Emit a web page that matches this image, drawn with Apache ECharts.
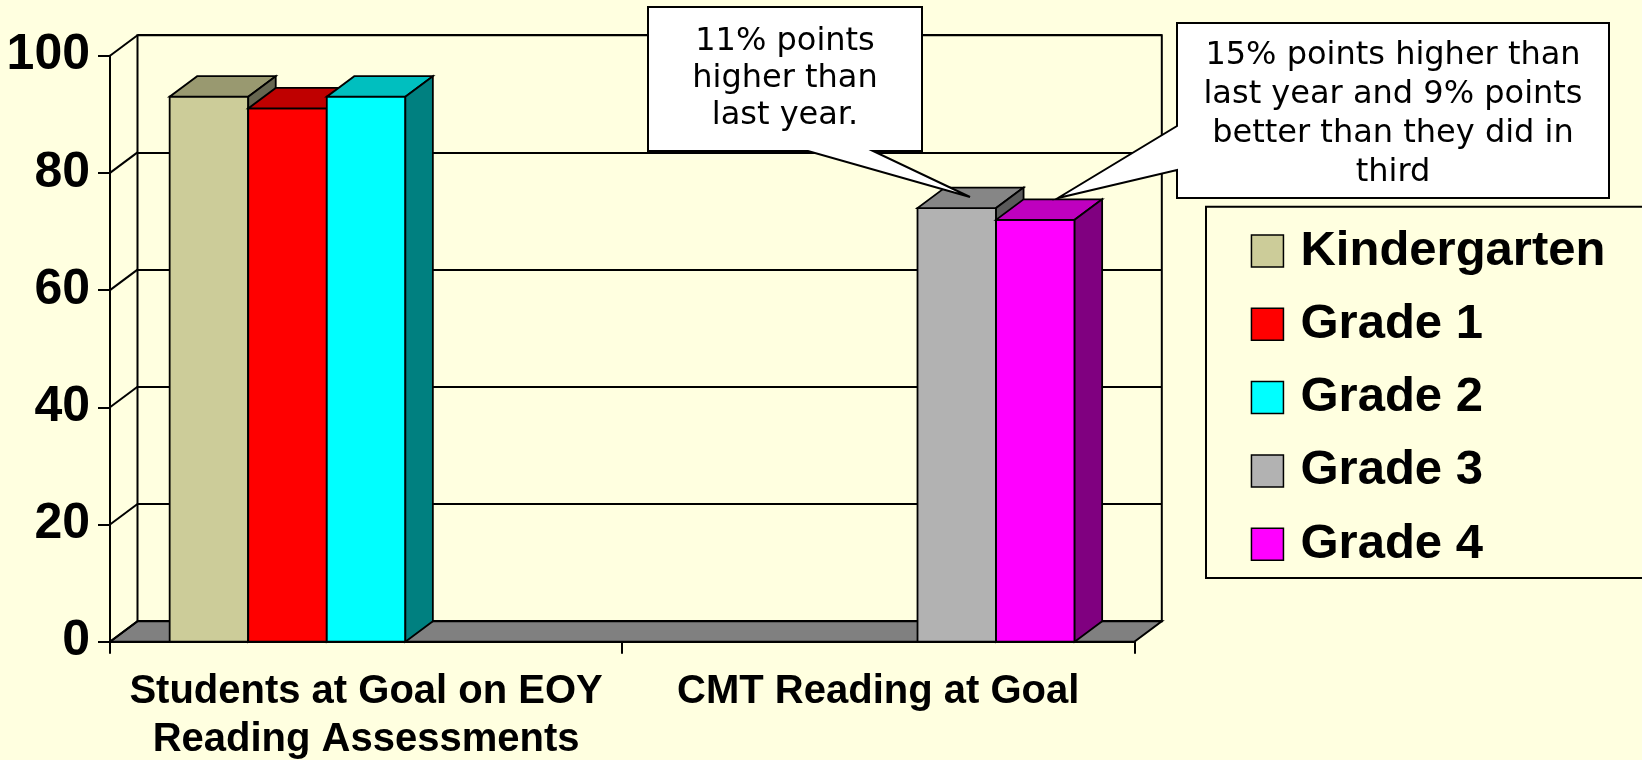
<!DOCTYPE html>
<html><head><meta charset="utf-8">
<script src="https://cdn.jsdelivr.net/npm/echarts@6/dist/echarts.min.js"></script>
<style>html,body{margin:0;padding:0;background:#FFFFE0;} #c{width:1642px;height:760px;}</style>
</head><body><div id="c"></div>
<script>
// ---- data ----
const categories = ['Students at Goal on EOY\nReading Assessments', 'CMT Reading at Goal'];
const seriesNames = ['Kindergarten', 'Grade 1', 'Grade 2', 'Grade 3', 'Grade 4'];
const kindergarten = [93, null];
const grade1 = [91, null];
const grade2 = [93, null];
const grade3 = [null, 74];
const grade4 = [null, 72];
const yTicks = [0, 20, 40, 60, 80, 100];
const callout1Lines = ['11% points', 'higher than', 'last year.'];
const callout2Lines = ['15% points higher than', 'last year and 9% points', 'better than they did in', 'third'];

// ---- styles ----
const seriesValues = [kindergarten, grade1, grade2, grade3, grade4];
const frontColors = ['#CCCC99', '#FF0000', '#00FFFF', '#B2B2B2', '#FF00FF'];
const topColors = ['#999970', '#BF0000', '#00BFBF', '#868686', '#BF00BF'];
const sideColors = ['#666650', '#800000', '#008080', '#5A5A5A', '#800080'];
const DX = 27.5, DY = 20.5, GAP = 0.233;
const FONT = "'Liberation Sans', Arial, sans-serif";
const BG = '#FFFFE0';

function renderFrame(params, api) {
  const cs = params.coordSys;
  const x0 = cs.x, x1 = cs.x + cs.width;
  const yb = api.coord([0, 0])[1];
  const children = [{
    type: 'polygon',
    shape: { points: [[x0, yb], [x1, yb], [x1 + DX, yb - DY], [x0 + DX, yb - DY]] },
    style: { fill: '#808080', stroke: '#000', lineWidth: 2 }
  }];
  yTicks.forEach(function (t) {
    const y = api.coord([0, t])[1];
    children.push({ type: 'line', shape: { x1: x0, y1: y, x2: x0 + DX, y2: y - DY }, style: { stroke: '#000', lineWidth: 2 } });
  });
  return { type: 'group', children: children };
}

function makeBarRender(s) {
  return function (params, api) {
    const cat = api.value(0), val = api.value(1);
    const top = api.coord([cat, val]);
    const base = api.coord([cat, 0]);
    const band = api.size([1, 0])[0];
    const groupW = band * (1 - GAP);
    const slot = groupW / seriesNames.length;
    const xl = top[0] - groupW / 2 + s * slot, xr = xl + slot;
    const yt = top[1], yb = base[1];
    const lw = 1.8;
    return { type: 'group', children: [
      { type: 'polygon', shape: { points: [[xl, yb], [xr, yb], [xr, yt], [xl, yt]] }, style: { fill: frontColors[s], stroke: '#000', lineWidth: lw } },
      { type: 'polygon', shape: { points: [[xl, yt], [xr, yt], [xr + DX, yt - DY], [xl + DX, yt - DY]] }, style: { fill: topColors[s], stroke: '#000', lineWidth: lw } },
      { type: 'polygon', shape: { points: [[xr, yb], [xr + DX, yb - DY], [xr + DX, yt - DY], [xr, yt]] }, style: { fill: sideColors[s], stroke: '#000', lineWidth: lw } }
    ] };
  };
}

const series = [{
  type: 'custom', name: '_frame', xAxisIndex: 0, yAxisIndex: 0,
  renderItem: renderFrame, data: [[0, 0]], silent: true, z: 2
}];
seriesNames.forEach(function (n, s) {
  series.push({
    type: 'custom', name: n, xAxisIndex: 0, yAxisIndex: 0, z: 3,
    itemStyle: { color: frontColors[s], borderColor: '#000', borderWidth: 1.5 },
    renderItem: makeBarRender(s),
    data: seriesValues[s].map(function (v, i) { return [i, v]; }).filter(function (d) { return d[1] != null; })
  });
});

const chart = echarts.init(document.getElementById('c'));
chart.setOption({
  backgroundColor: BG,
  animation: false,
  grid: [
    { left: 110, right: 507.7, top: 55.7, bottom: 118.3, containLabel: false, outerBoundsMode: 'none' },
    { left: 137.5, right: 480.2, top: 35.2, bottom: 138.8, containLabel: false, outerBoundsMode: 'none', show: true, borderColor: '#000', borderWidth: 2, backgroundColor: 'transparent' }
  ],
  xAxis: [
    { type: 'category', gridIndex: 0, data: categories,
      axisLine: { lineStyle: { color: '#000', width: 2 } },
      axisTick: { show: true, length: 12, lineStyle: { color: '#000', width: 2 } },
      axisLabel: { interval: 0, margin: 26, color: '#000', fontFamily: FONT, fontWeight: 'bold', fontSize: 40, lineHeight: 48, align: 'center' },
      splitLine: { show: false } },
    { type: 'category', gridIndex: 1, data: categories, show: false }
  ],
  yAxis: [
    { type: 'value', gridIndex: 0, min: 0, max: 100, interval: 20,
      axisLine: { show: true, lineStyle: { color: '#000', width: 2 } },
      axisTick: { show: true, length: 12, lineStyle: { color: '#000', width: 2 } },
      axisLabel: { margin: 20, color: '#000', fontFamily: FONT, fontWeight: 'bold', fontSize: 50, padding: [4, 0, 0, 0] },
      splitLine: { show: false } },
    { type: 'value', gridIndex: 1, min: 0, max: 100, interval: 20,
      axisLine: { show: false }, axisTick: { show: false }, axisLabel: { show: false },
      splitLine: { show: true, lineStyle: { color: '#000', width: 2 } } }
  ],
  legend: {
    orient: 'vertical', left: 1245.7, top: 221.5, itemWidth: 32, itemHeight: 32, itemGap: 24.3,
    icon: 'rect', selectedMode: false,
    textStyle: { fontFamily: FONT, fontWeight: 'bold', fontSize: 49, color: '#000', padding: [0, 0, 0, 12] },
    data: seriesNames.map(function (n, i) { return { name: n, itemStyle: { color: frontColors[i], borderColor: '#000', borderWidth: 1.5 } }; })
  },
  graphic: [
    { type: 'rect', z: 1, shape: { x: 1206, y: 206.7, width: 460, height: 371.3 }, style: { fill: BG, stroke: '#000', lineWidth: 2 } },
    { type: 'polygon', z: 10, shape: { points: [[648, 7], [922, 7], [922, 151], [873, 151], [970, 197], [808, 151], [648, 151]] }, style: { fill: '#FFFFFF', stroke: '#000', lineWidth: 2 } },
    { type: 'text', z: 11, x: 785, y: 79, style: { text: callout1Lines.join('\n'), fontFamily: "'DejaVu Sans', Verdana, sans-serif", fontSize: 32, lineHeight: 37, align: 'center', verticalAlign: 'middle', fill: '#000' } },
    { type: 'polygon', z: 10, shape: { points: [[1177, 23], [1609, 23], [1609, 198], [1177, 198], [1177, 170], [1058, 198], [1177, 126]] }, style: { fill: '#FFFFFF', stroke: '#000', lineWidth: 2 } },
    { type: 'text', z: 11, x: 1393, y: 114, style: { text: callout2Lines.join('\n'), fontFamily: "'DejaVu Sans', Verdana, sans-serif", fontSize: 32, lineHeight: 39, align: 'center', verticalAlign: 'middle', fill: '#000' } }
  ],
  series: series
});
</script>
</body></html>
